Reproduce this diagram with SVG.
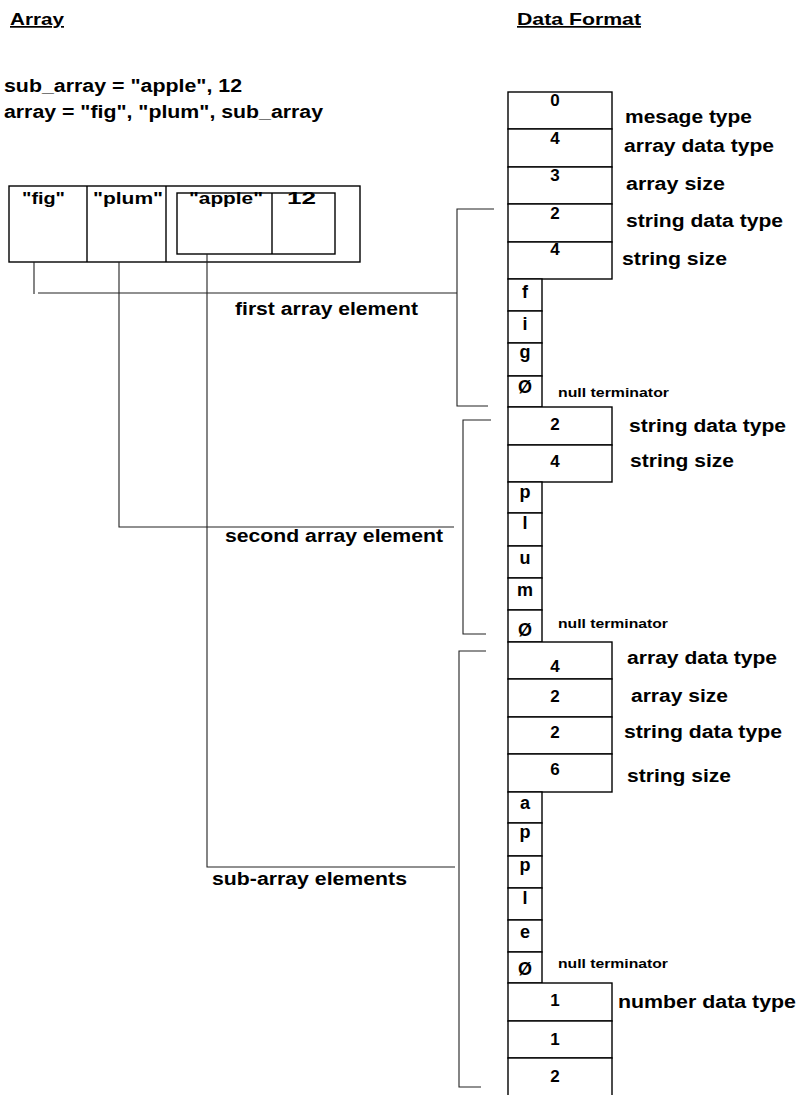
<svg xmlns="http://www.w3.org/2000/svg" width="797" height="1095" viewBox="0 0 797 1095">
<style>
text{font-family:"Liberation Sans",Arial,sans-serif;font-weight:bold;fill:#000}
.h{font-size:17px;text-decoration:underline}
.m{font-size:18px}
.c{font-size:16px}
.d{font-size:17px;text-anchor:middle}
.l{font-size:18px;text-anchor:middle}
.n{font-size:13px}
.box{fill:#fff;stroke:#000;stroke-width:1.4}
.cn{fill:none;stroke:#222;stroke-width:1.1}
</style>
<rect width="797" height="1095" fill="#fff"/>
<g id="titles">
<text class="h" x="10" y="25" textLength="54" lengthAdjust="spacingAndGlyphs">Array</text>
<text class="h" x="517" y="25" textLength="124" lengthAdjust="spacingAndGlyphs">Data Format</text>
<text class="m" x="4" y="92" textLength="238" lengthAdjust="spacingAndGlyphs">sub_array = "apple", 12</text>
<text class="m" x="4" y="118" textLength="319" lengthAdjust="spacingAndGlyphs">array = "fig", "plum", sub_array</text>
</g>
<g id="array-box">
<rect class="box" x="9" y="186" width="351" height="76"/>
<line class="box" x1="87" y1="186" x2="87" y2="262"/>
<line class="box" x1="166" y1="186" x2="166" y2="262"/>
<rect class="box" x="177" y="193" width="158" height="61"/>
<line class="box" x1="272" y1="193" x2="272" y2="254"/>
<text class="c" x="22" y="204" textLength="43" lengthAdjust="spacingAndGlyphs">"fig"</text>
<text class="c" x="93" y="204" textLength="70" lengthAdjust="spacingAndGlyphs">"plum"</text>
<text class="c" x="189" y="204" textLength="74" lengthAdjust="spacingAndGlyphs">"apple"</text>
<text class="c" x="287" y="204" textLength="29" lengthAdjust="spacingAndGlyphs">12</text>
</g>
<g id="connectors">
<path class="cn" d="M34 262 V294 M38 293 H457"/>
<path class="cn" d="M119 262 V527 H454"/>
<path class="cn" d="M207 254 V867 H455"/>
<path class="cn" d="M494 209 H457 V406 H488"/>
<path class="cn" d="M491 420 H463 V634 H486"/>
<path class="cn" d="M486 651 H459 V1087 H481"/>
</g>
<g id="element-labels">
<text class="m" x="235" y="315" textLength="183" lengthAdjust="spacingAndGlyphs">first array element</text>
<text class="m" x="225" y="542" textLength="218" lengthAdjust="spacingAndGlyphs">second array element</text>
<text class="m" x="212" y="885" textLength="195" lengthAdjust="spacingAndGlyphs">sub-array elements</text>
</g>
<g id="header-fields">
<rect class="box" x="508" y="92" width="104" height="37"/>
<rect class="box" x="508" y="129" width="104" height="38"/>
<rect class="box" x="508" y="167" width="104" height="37"/>
<text class="d" x="555" y="106">0</text>
<text class="d" x="555" y="144">4</text>
<text class="d" x="555" y="181">3</text>
<text class="m" x="625" y="123" textLength="127" lengthAdjust="spacingAndGlyphs">mesage type</text>
<text class="m" x="624" y="152" textLength="150" lengthAdjust="spacingAndGlyphs">array data type</text>
<text class="m" x="626" y="190" textLength="99" lengthAdjust="spacingAndGlyphs">array size</text>
</g>
<g id="element-fig">
<rect class="box" x="508" y="204" width="104" height="38"/>
<rect class="box" x="508" y="242" width="104" height="37"/>
<text class="d" x="555" y="219">2</text>
<text class="d" x="555" y="255">4</text>
<text class="m" x="626" y="227" textLength="157" lengthAdjust="spacingAndGlyphs">string data type</text>
<text class="m" x="622" y="265" textLength="105" lengthAdjust="spacingAndGlyphs">string size</text>
<rect class="box" x="508" y="279" width="34" height="32"/>
<rect class="box" x="508" y="311" width="34" height="32"/>
<rect class="box" x="508" y="343" width="34" height="33"/>
<rect class="box" x="508" y="376" width="34" height="31"/>
<text class="l" x="525" y="298">f</text>
<text class="l" x="525" y="330">i</text>
<text class="l" x="525" y="358">g</text>
<text class="l" x="525" y="393">Ø</text>
<text class="n" x="558" y="397" textLength="111" lengthAdjust="spacingAndGlyphs">null terminator</text>
</g>
<g id="element-plum">
<rect class="box" x="508" y="407" width="104" height="38"/>
<rect class="box" x="508" y="445" width="104" height="37"/>
<text class="d" x="555" y="430">2</text>
<text class="d" x="555" y="467">4</text>
<text class="m" x="629" y="432" textLength="157" lengthAdjust="spacingAndGlyphs">string data type</text>
<text class="m" x="630" y="467" textLength="104" lengthAdjust="spacingAndGlyphs">string size</text>
<rect class="box" x="508" y="482" width="34" height="31"/>
<rect class="box" x="508" y="513" width="34" height="33"/>
<rect class="box" x="508" y="546" width="34" height="32"/>
<rect class="box" x="508" y="578" width="34" height="32"/>
<rect class="box" x="508" y="610" width="34" height="32"/>
<text class="l" x="525" y="498">p</text>
<text class="l" x="525" y="529">l</text>
<text class="l" x="525" y="564">u</text>
<text class="l" x="525" y="596">m</text>
<text class="l" x="525" y="636">Ø</text>
<text class="n" x="558" y="628" textLength="110" lengthAdjust="spacingAndGlyphs">null terminator</text>
</g>
<g id="element-subarray">
<rect class="box" x="508" y="642" width="104" height="37"/>
<rect class="box" x="508" y="679" width="104" height="38"/>
<rect class="box" x="508" y="717" width="104" height="37"/>
<rect class="box" x="508" y="754" width="104" height="38"/>
<text class="d" x="555" y="672">4</text>
<text class="d" x="555" y="702">2</text>
<text class="d" x="555" y="738">2</text>
<text class="d" x="555" y="775">6</text>
<text class="m" x="627" y="664" textLength="150" lengthAdjust="spacingAndGlyphs">array data type</text>
<text class="m" x="631" y="702" textLength="97" lengthAdjust="spacingAndGlyphs">array size</text>
<text class="m" x="624" y="738" textLength="158" lengthAdjust="spacingAndGlyphs">string data type</text>
<text class="m" x="627" y="782" textLength="104" lengthAdjust="spacingAndGlyphs">string size</text>
<rect class="box" x="508" y="792" width="34" height="31"/>
<rect class="box" x="508" y="823" width="34" height="33"/>
<rect class="box" x="508" y="856" width="34" height="32"/>
<rect class="box" x="508" y="888" width="34" height="32"/>
<rect class="box" x="508" y="920" width="34" height="32"/>
<rect class="box" x="508" y="952" width="34" height="31"/>
<text class="l" x="525" y="809">a</text>
<text class="l" x="525" y="838">p</text>
<text class="l" x="525" y="871">p</text>
<text class="l" x="525" y="904">l</text>
<text class="l" x="525" y="938">e</text>
<text class="l" x="525" y="975">Ø</text>
<text class="n" x="558" y="968" textLength="110" lengthAdjust="spacingAndGlyphs">null terminator</text>
<rect class="box" x="508" y="983" width="104" height="38"/>
<rect class="box" x="508" y="1021" width="104" height="37"/>
<rect class="box" x="508" y="1058" width="104" height="40"/>
<text class="d" x="555" y="1006">1</text>
<text class="d" x="555" y="1045">1</text>
<text class="d" x="555" y="1082">2</text>
<text class="m" x="618" y="1008" textLength="178" lengthAdjust="spacingAndGlyphs">number data type</text>
</g>
</svg>
